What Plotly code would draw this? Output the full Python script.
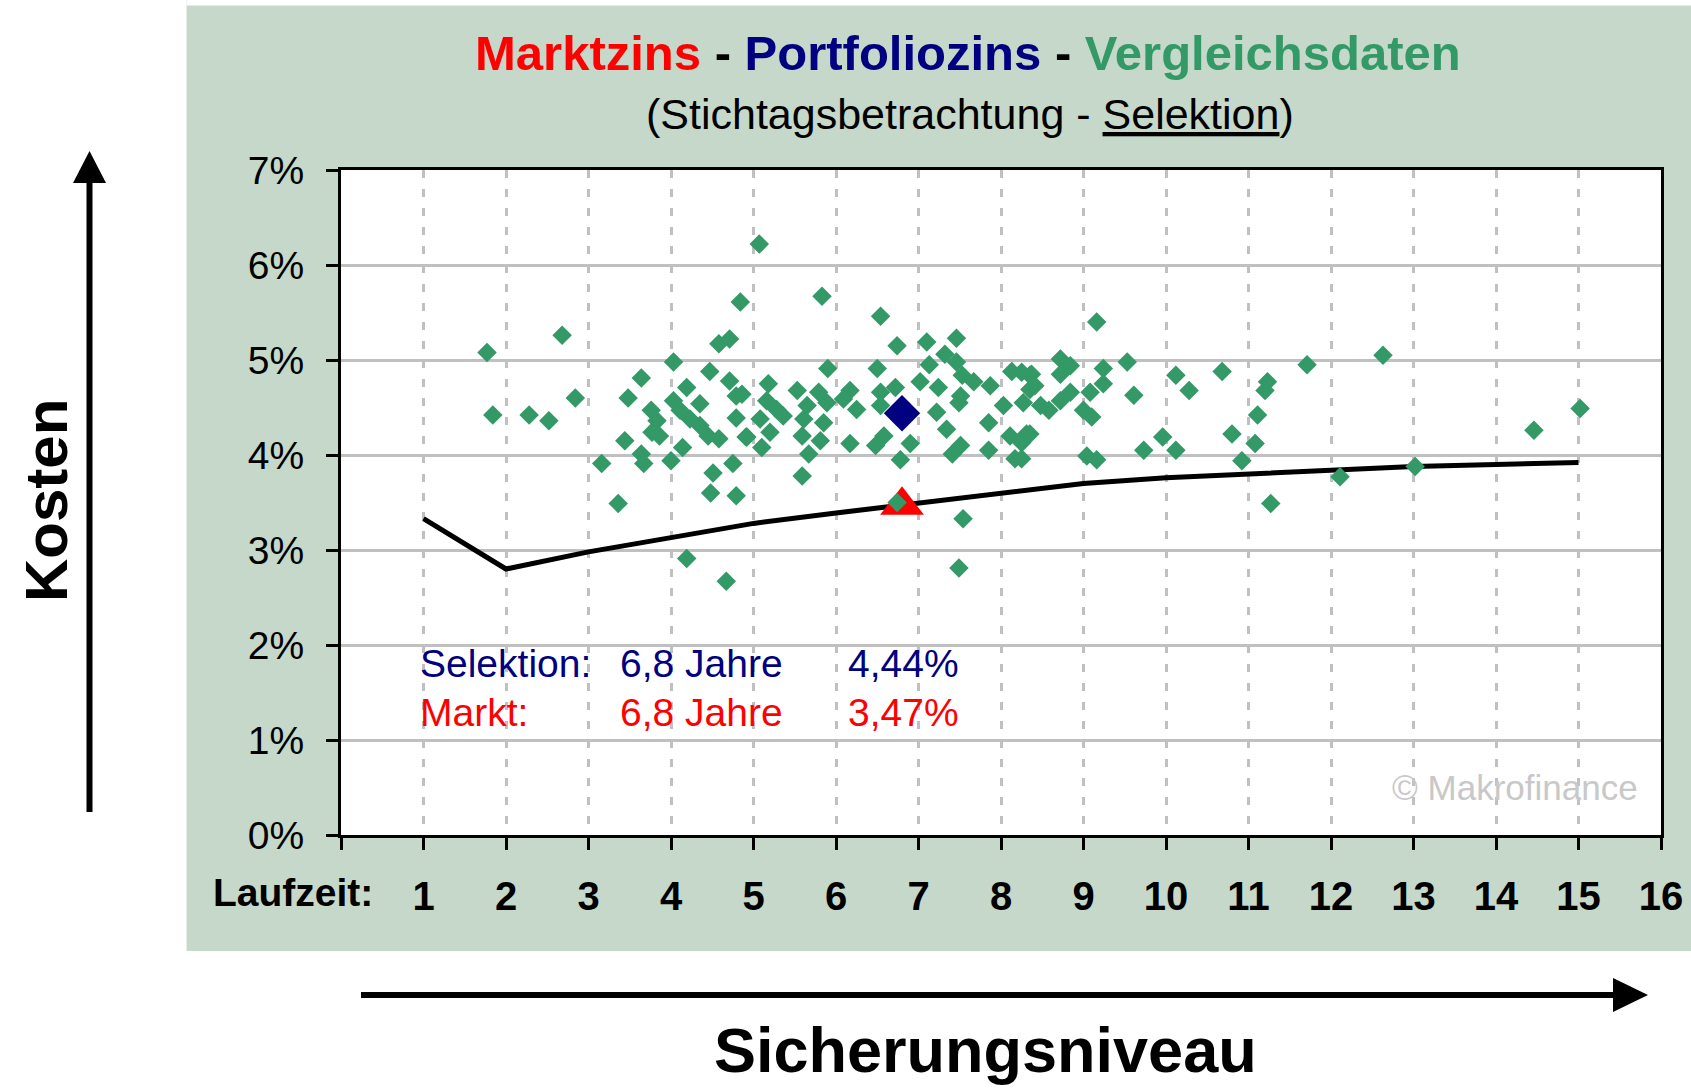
import plotly.graph_objects as go

# ---------------- data ----------------
laufzeit_ticks = list(range(0, 17))
laufzeit_text = [""] + [str(i) for i in range(1, 17)]
kosten_ticks = [0, 1, 2, 3, 4, 5, 6, 7]

markt_x = [1, 2, 3, 4, 5, 6, 7, 8, 9, 10, 11, 12, 13, 14, 15]
markt_y = [3.33, 2.80, 2.98, 3.13, 3.28, 3.39, 3.49, 3.60, 3.70, 3.76, 3.80, 3.84, 3.88, 3.90, 3.92]

sel_x, sel_y = 6.8, 4.44
mkt_x, mkt_y = 6.8, 3.47

vgl_x = [5.07, 4.84, 2.68, 1.77, 4.58, 4.71, 4.03, 3.64, 4.47, 4.71, 4.79, 2.84, 3.48, 4.19, 4.03,
         4.11, 4.35, 4.23, 4.35, 4.45, 4.58, 1.84, 2.28, 2.52, 3.76, 3.83, 3.77, 3.86, 3.44, 4.79,
         4.91, 3.64, 3.67, 4.14, 4.00, 3.16, 4.51, 4.75, 4.48, 4.79, 3.36, 4.19, 4.67, 5.83, 6.54,
         6.74, 7.10, 7.46, 5.90, 6.50, 7.13, 7.32, 7.46, 7.53, 7.67, 7.87, 7.51, 7.49, 8.13, 8.35,
         8.35, 5.18, 5.16, 4.86, 5.53, 5.79, 6.17, 6.25, 6.54, 6.72, 7.02, 7.24, 6.54, 5.28, 5.65,
         5.89, 5.08, 5.36, 5.61, 5.85, 4.92, 5.20, 5.59, 5.81, 5.10, 5.67, 6.17, 6.58, 6.48, 6.90,
         6.78, 7.22, 7.34, 7.51, 7.41, 7.85, 7.85, 8.03, 8.11, 8.31, 8.17, 5.59, 6.74, 7.54, 7.49,
         9.16, 8.72, 8.84, 8.72, 9.24, 9.53, 8.37, 8.41, 9.24, 9.08, 8.84, 8.27, 8.58, 8.72, 9.00,
         9.10, 9.61, 10.12, 10.28, 10.68, 11.71, 11.23, 11.20, 11.11, 8.35, 8.25, 8.25, 9.04, 9.16,
         9.73, 9.96, 10.12, 10.80, 11.08, 10.92, 11.27, 12.63, 12.11, 13.02, 14.46, 15.02, 6.09,
         8.25, 8.48]
vgl_y = [6.22, 5.61, 5.26, 5.08, 5.17, 5.22, 4.98, 4.81, 4.88, 4.78, 4.62, 4.60, 4.60, 4.71, 4.57,
         4.47, 4.54, 4.38, 4.31, 4.20, 4.17, 4.42, 4.42, 4.36, 4.47, 4.36, 4.24, 4.20, 4.15, 4.39,
         4.19, 4.01, 3.91, 4.08, 3.94, 3.91, 3.81, 3.91, 3.60, 3.57, 3.49, 2.91, 2.67, 5.67, 5.46,
         5.15, 5.19, 5.23, 4.91, 4.91, 4.95, 5.06, 4.98, 4.84, 4.77, 4.73, 4.62, 4.55, 4.88, 4.84,
         4.69, 4.75, 4.57, 4.64, 4.68, 4.66, 4.68, 4.48, 4.66, 4.71, 4.77, 4.71, 4.52, 4.48, 4.52,
         4.55, 4.38, 4.41, 4.38, 4.34, 4.19, 4.24, 4.20, 4.15, 4.08, 4.01, 4.12, 4.20, 4.10, 4.12,
         3.95, 4.45, 4.27, 4.10, 4.01, 4.05, 4.34, 4.52, 4.20, 4.22, 3.96, 3.78, 3.50, 3.33, 2.81,
         5.40, 5.01, 4.94, 4.85, 4.91, 4.98, 4.85, 4.73, 4.75, 4.66, 4.66, 4.55, 4.47, 4.57, 4.47,
         4.40, 4.63, 4.84, 4.68, 4.88, 4.95, 4.77, 4.68, 4.42, 4.22, 4.13, 3.96, 3.99, 3.95,
         4.05, 4.19, 4.05, 4.22, 4.12, 3.94, 3.49, 5.05, 3.77, 3.88, 4.26, 4.49, 4.59,
         4.87, 4.52]

# ---------------- layout geometry (page pixels) ----------------
W, H = 1691, 1090
PLOT_L, PLOT_R, PLOT_T, PLOT_B = 341, 1661, 170, 835
ML, MR, MT, MB = PLOT_L, W - PLOT_R, PLOT_T, H - PLOT_B
PW, PH = W - ML - MR, H - MT - MB


def fx(px):
    return (px - ML) / PW


def fy(py):
    return (H - MB - py) / PH


FONT = "Liberation Sans, Arial, sans-serif"
GREEN_BG = "#C6D8C9"
RED = "#FF0000"
NAVY = "#000080"
GREEN = "#339966"

fig = go.Figure()

fig.add_trace(go.Scatter(x=markt_x, y=markt_y, mode="lines",
                         line=dict(color="black", width=5), hoverinfo="skip", showlegend=False))
fig.add_trace(go.Scatter(x=[mkt_x], y=[mkt_y], mode="markers",
                         marker=dict(symbol="triangle-up", size=38, color=RED), showlegend=False))
fig.add_trace(go.Scatter(x=vgl_x, y=vgl_y, mode="markers",
                         marker=dict(symbol="diamond", size=15, color=GREEN), showlegend=False))
fig.add_trace(go.Scatter(x=[sel_x], y=[sel_y], mode="markers",
                         marker=dict(symbol="diamond", size=28, color=NAVY), showlegend=False))

fig.update_xaxes(range=[0, 16], tickmode="array", tickvals=laufzeit_ticks, ticktext=laufzeit_text,
                 showgrid=True, gridcolor="#C0C0C0", gridwidth=3, griddash="8px,11px",
                 showline=True, linecolor="black", linewidth=3, mirror=True,
                 ticks="outside", ticklen=12, tickwidth=3, tickcolor="black",
                 tickfont=dict(family=FONT, size=40, color="black", weight="bold"),
                 ticklabelstandoff=12, zeroline=False, fixedrange=True)
fig.update_yaxes(range=[0, 7], tickmode="array", tickvals=kosten_ticks,
                 ticktext=[f"{v}%" for v in kosten_ticks],
                 showgrid=True, gridcolor="#C0C0C0", gridwidth=3,
                 showline=True, linecolor="black", linewidth=3, mirror=True,
                 ticks="outside", ticklen=12, tickwidth=3, tickcolor="black",
                 tickfont=dict(family=FONT, size=39, color="black"),
                 ticklabelstandoff=14, zeroline=False, fixedrange=True)

shapes = []
# white surroundings (paper itself is the green panel)
white_rects = [
    (-40, -40, 186.6, 1130),   # left strip
    (186.6, -40, 1730, 5.5),   # top strip
    (-40, 951, 1730, 1130),    # bottom strip
]
for x0, y0, x1, y1 in white_rects:
    shapes.append(dict(type="rect", xref="paper", yref="paper", x0=fx(x0), x1=fx(x1),
                       y0=fy(y1), y1=fy(y0),
                       fillcolor="white", line=dict(width=0), layer="below"))
# vertical arrow (Kosten)
shapes.append(dict(type="line", xref="paper", yref="paper", x0=fx(89.5), x1=fx(89.5),
                   y0=fy(812), y1=fy(180), line=dict(color="black", width=6)))
shapes.append(dict(type="path", xref="paper", yref="paper",
                   path=f"M {fx(73)},{fy(183)} L {fx(106)},{fy(183)} L {fx(89.5)},{fy(151)} Z",
                   fillcolor="black", line=dict(width=0)))
# horizontal arrow (Sicherungsniveau)
shapes.append(dict(type="line", xref="paper", yref="paper", x0=fx(361), x1=fx(1616),
                   y0=fy(995), y1=fy(995), line=dict(color="black", width=6)))
shapes.append(dict(type="path", xref="paper", yref="paper",
                   path=f"M {fx(1613)},{fy(978)} L {fx(1613)},{fy(1012)} L {fx(1648)},{fy(995)} Z",
                   fillcolor="black", line=dict(width=0)))


def de(v, d):
    return f"{v:.{d}f}".replace(".", ",")


annotations = [
    dict(text=(f"<span style='color:{RED}'>Marktzins</span> - "
               f"<span style='color:{NAVY}'>Portfoliozins</span> - "
               f"<span style='color:{GREEN}'>Vergleichsdaten</span>"),
         x=fx(968), y=fy(53), font=dict(family=FONT, size=49, color="black", weight="bold")),
    dict(text="(Stichtagsbetrachtung - <u>Selektion</u>)",
         x=fx(970), y=fy(114), font=dict(family=FONT, size=43, color="black")),
    dict(text="Laufzeit:", x=fx(375), y=fy(892), xanchor="right",
         font=dict(family=FONT, size=39, color="black", weight="bold")),
    dict(text="Selektion:", x=fx(418), y=fy(663), xanchor="left",
         font=dict(family=FONT, size=39, color=NAVY)),
    dict(text=f"{de(sel_x, 1)} Jahre", x=fx(618), y=fy(663), xanchor="left",
         font=dict(family=FONT, size=39, color=NAVY)),
    dict(text=f"{de(sel_y, 2)}%", x=fx(846), y=fy(663), xanchor="left",
         font=dict(family=FONT, size=39, color=NAVY)),
    dict(text="Markt:", x=fx(418), y=fy(712), xanchor="left",
         font=dict(family=FONT, size=39, color=RED)),
    dict(text=f"{de(mkt_x, 1)} Jahre", x=fx(618), y=fy(712), xanchor="left",
         font=dict(family=FONT, size=39, color=RED)),
    dict(text=f"{de(mkt_y, 2)}%", x=fx(846), y=fy(712), xanchor="left",
         font=dict(family=FONT, size=39, color=RED)),
    dict(text="© Makrofinance", x=fx(1640), y=fy(787), xanchor="right",
         font=dict(family=FONT, size=35, color="#C8C8C8")),
    dict(text="Kosten", x=fx(46), y=fy(501), textangle=-90,
         font=dict(family=FONT, size=60, color="black", weight="bold")),
    dict(text="Sicherungsniveau", x=fx(985), y=fy(1050),
         font=dict(family=FONT, size=63, color="black", weight="bold")),
]
for a in annotations:
    a.setdefault("xanchor", "center")
    a.update(xref="paper", yref="paper", yanchor="middle", showarrow=False)

fig.update_layout(width=W, height=H, autosize=False,
                  margin=dict(l=ML, r=MR, t=MT, b=MB, pad=0, autoexpand=False),
                  paper_bgcolor=GREEN_BG, plot_bgcolor="white",
                  shapes=shapes, annotations=annotations, showlegend=False,
                  font=dict(family=FONT))

fig.write_html("out.html", config={"displayModeBar": False, "staticPlot": True},
               post_script="document.body.style.margin='0';document.body.style.overflow='hidden';")
